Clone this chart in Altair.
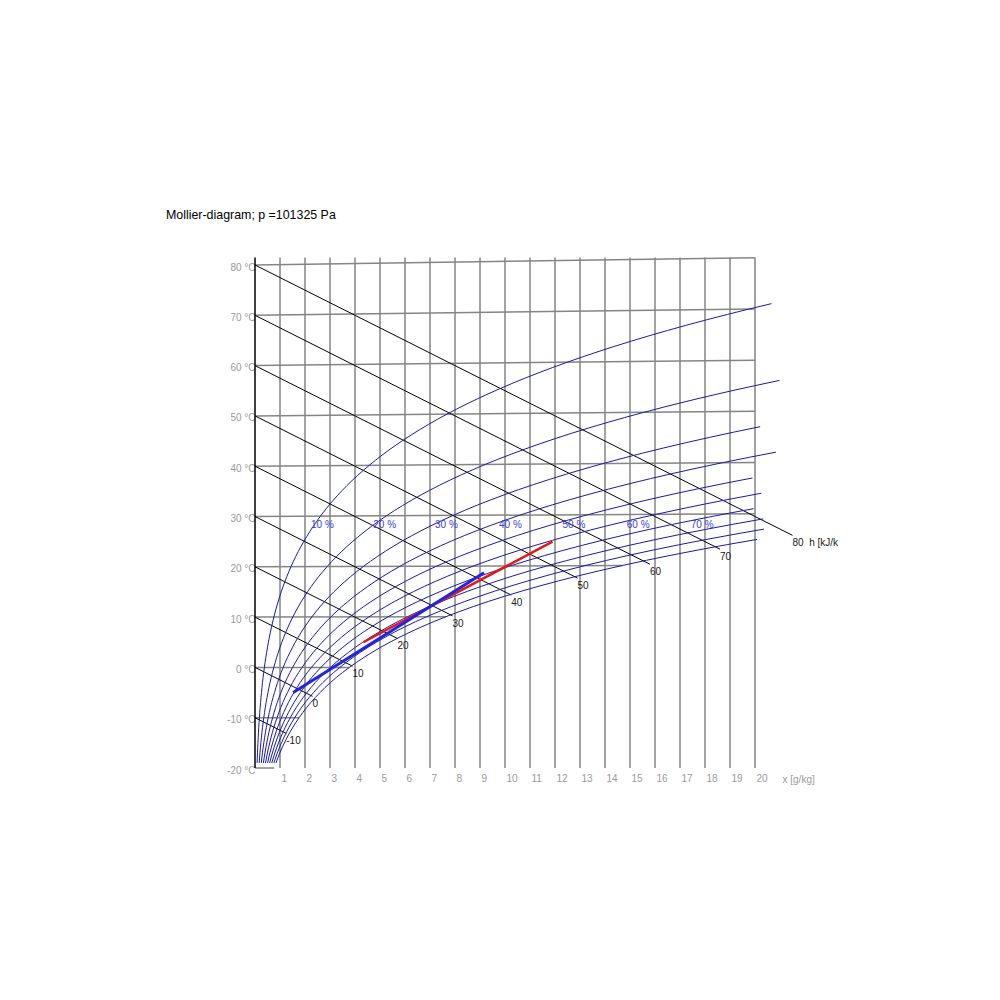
import altair as alt
import pandas as pd

TITLE = "Mollier-diagram; p =101325 Pa"
P_KPA = 101.325

# saturation vapour pressure of water (kPa), 1 degC steps from -20 to 75
SAT_T = list(range(-20, 76))
SAT_P = [
    0.1254, 0.1364, 0.1484, 0.1615, 0.1757, 0.1912, 0.2073, 0.2248, 0.2437, 0.2642,
    0.2865, 0.3095, 0.3344, 0.3613, 0.3903, 0.4217, 0.4542, 0.4892, 0.5270, 0.5676,
    0.6112, 0.6571, 0.7060, 0.7581, 0.8135, 0.8726, 0.9354, 1.0021, 1.0730, 1.1482,
    1.2282, 1.3130, 1.4028, 1.4981, 1.5990, 1.7058, 1.8188, 1.9384, 2.0647, 2.1983,
    2.3393, 2.4882, 2.6453, 2.8111, 2.9858, 3.1699, 3.3639, 3.5681, 3.7831, 4.0092,
    4.2470, 4.4969, 4.7596, 5.0354, 5.3251, 5.6290, 5.9479, 6.2823, 6.6328, 7.0002,
    7.3849, 7.7878, 8.2096, 8.6508, 9.1124, 9.5950, 10.099, 10.627, 11.177, 11.752,
    12.352, 12.978, 13.631, 14.312, 15.022, 15.762, 16.533, 17.336, 18.171, 19.041,
    19.946, 20.888, 21.867, 22.885, 23.943, 25.042, 26.183, 27.368, 28.599, 29.876,
    31.201, 32.575, 34.000, 35.478, 37.009, 38.595,
]
assert len(SAT_T) == len(SAT_P)

RH_LEVELS = [0.1, 0.2, 0.3, 0.4, 0.5, 0.6, 0.7, 0.8, 0.9, 1.0]
RH_START_T = -19
RH_END_T = [71, 56, 47, 42, 37, 34, 31, 29, 27, 25]
RH_LABELS = ["10 %", "20 %", "30 %", "40 %", "50 %", "60 %", "70 %"]
RH_LABEL_X = [2.24, 4.73, 7.2, 9.76, 12.3, 14.87, 17.43]
RH_LABEL_Y = [28.4, 28.4, 28.4, 28.4, 28.4, 28.4, 28.4]

ISO_T = [-20, -10, 0, 10, 20, 30, 40, 50, 60, 70, 80]
ISO_SKEW = 0.0009          # isotherm rise per degC per g/kg
X_MAX = 20

ENTH_H = [-10, 0, 10, 20, 30, 40, 50, 60, 70, 80]
ENTH_END_X = [1.25, 2.3, 3.9, 5.7, 7.9, 10.25, 12.9, 15.8, 18.6, 21.5]
ENTH_LABELS = ["-10", "0", "10", "20", "30", "40", "50", "60", "70", "80 \u00a0h [kJ/k"]
ENTH_SLOPE = 2.5           # drop per g/kg

GRID_X = list(range(1, 21))
GRID_TOP = 81.5

RED_X = [4.33, 11.9]
RED_Y = [5.0, 25.0]
BLUE_X = [1.53, 9.16]
BLUE_Y = [-5.0, 18.8]


def x_of(phi, ps):
    pv = phi * ps
    return 622.0 * pv / (P_KPA - pv)


sat = dict(zip(SAT_T, SAT_P))

# relative humidity curves
rh_rows = []
for phi, t_end in zip(RH_LEVELS, RH_END_T):
    i = 0
    for t, ps in zip(SAT_T, SAT_P):
        if t < RH_START_T or t > t_end:
            continue
        xv = x_of(phi, ps)
        rh_rows.append({"s": f"rh{phi}", "o": i, "x": xv, "y": t + ISO_SKEW * t * xv})
        i += 1
rh_df = pd.DataFrame(rh_rows)

# isotherms
iso_rows = []
for t in ISO_T:
    xe = min(x_of(1.0, sat[t]), X_MAX) if t in sat else X_MAX
    iso_rows.append({"s": f"t{t}", "o": 0, "x": 0.0, "y": float(t)})
    iso_rows.append({"s": f"t{t}", "o": 1, "x": xe, "y": t + ISO_SKEW * t * xe})
iso_df = pd.DataFrame(iso_rows)

# enthalpy lines
h_rows, h_lab = [], []
for h, xe, lab in zip(ENTH_H, ENTH_END_X, ENTH_LABELS):
    h_rows.append({"s": f"h{h}", "o": 0, "x": 0.0, "y": float(h)})
    h_rows.append({"s": f"h{h}", "o": 1, "x": xe, "y": h - ENTH_SLOPE * xe})
    h_lab.append({"x": xe, "y": h - ENTH_SLOPE * xe, "label": lab})
h_df = pd.DataFrame(h_rows)
h_lab_df = pd.DataFrame(h_lab)

grid_df = pd.DataFrame({"x": GRID_X, "y": [ISO_T[0]] * len(GRID_X), "y2": [GRID_TOP] * len(GRID_X)})
axis_df = pd.DataFrame({"x": [0], "y": [ISO_T[0]], "y2": [GRID_TOP]})
red_df = pd.DataFrame({"x": RED_X, "y": RED_Y, "o": [0, 1]})
blue_df = pd.DataFrame({"x": BLUE_X, "y": BLUE_Y, "o": [0, 1]})
rh_lab_df = pd.DataFrame({"x": RH_LABEL_X, "y": RH_LABEL_Y, "label": RH_LABELS})

FONT = "Liberation Sans"
xs = alt.Scale(domain=[0, 20], nice=False, zero=False)
ys = alt.Scale(domain=[-20, 80], nice=False, zero=False)

x_axis = alt.Axis(
    values=GRID_X, labelAlign="left", labelOffset=1, labelBaseline="middle", labelPadding=10,
    ticks=False, tickSize=0, domain=False, grid=False, labelColor="#9a9a9a",
    labelFontSize=10, labelFont=FONT, title="x [g/kg]", titleX=527, titleY=11,
    titleAlign="left", titleBaseline="middle", titleFontWeight="normal", titleFontSize=10,
    titleColor="#9a9a9a", titleFont=FONT, labelFlush=False, labelOverlap=False,
)
y_axis = alt.Axis(
    values=ISO_T, labelExpr="datum.value + ' °C'", ticks=False, tickSize=0, domain=False,
    grid=False, labelPadding=0, labelColor="#9a9a9a", labelFontSize=10, labelFont=FONT,
    labelBaseline="middle", labelOffset=2, title=None, labelFlush=False, labelOverlap=False,
)


def X():
    return alt.X("x:Q", scale=xs, axis=x_axis)


def Y():
    return alt.Y("y:Q", scale=ys, axis=y_axis)


grid = alt.Chart(grid_df).mark_rule(color="#858585", strokeWidth=1.5).encode(
    x=X(), y=Y(), y2="y2:Q")
yaxis_line = alt.Chart(axis_df).mark_rule(color="black", strokeWidth=1.5).encode(
    x=X(), y=Y(), y2="y2:Q")
iso = alt.Chart(iso_df).mark_line(color="#858585", strokeWidth=1.5).encode(
    x=X(), y=Y(), detail="s:N", order="o:Q")
enth = alt.Chart(h_df).mark_line(color="black", strokeWidth=1).encode(
    x=X(), y=Y(), detail="s:N", order="o:Q")
rh = alt.Chart(rh_df).mark_line(color="#1a1aa8", strokeWidth=1).encode(
    x=X(), y=Y(), detail="s:N", order="o:Q")
red = alt.Chart(red_df).mark_line(color="#e01818", strokeWidth=2.5).encode(
    x=X(), y=Y(), order="o:Q")
blue = alt.Chart(blue_df).mark_line(color="#2424e0", strokeWidth=3).encode(
    x=X(), y=Y(), order="o:Q")
rh_text = alt.Chart(rh_lab_df).mark_text(
    align="left", baseline="middle", color="#3c3cd8", fontSize=10, font=FONT).encode(
    x=X(), y=Y(), text="label:N")
h_text = alt.Chart(h_lab_df).mark_text(
    align="left", baseline="middle", dx=0, dy=8, color="#202020", fontSize=10, font=FONT).encode(
    x=X(), y=Y(), text="label:N")

chart = alt.layer(grid, iso, yaxis_line, enth, rh, red, blue, rh_text, h_text).properties(
    width=500, height=503, autosize="none",
    padding={"left": 247, "top": 257, "right": 220, "bottom": 60},
    title=alt.TitleParams(TITLE, anchor="start", frame="group", dx=-89, offset=27,
                          baseline="middle", fontSize=12.4, fontWeight="normal",
                          font=FONT, color="black"),
).configure_view(stroke=None)

chart.save("out.html", embed_options={"renderer": "svg", "actions": False})
